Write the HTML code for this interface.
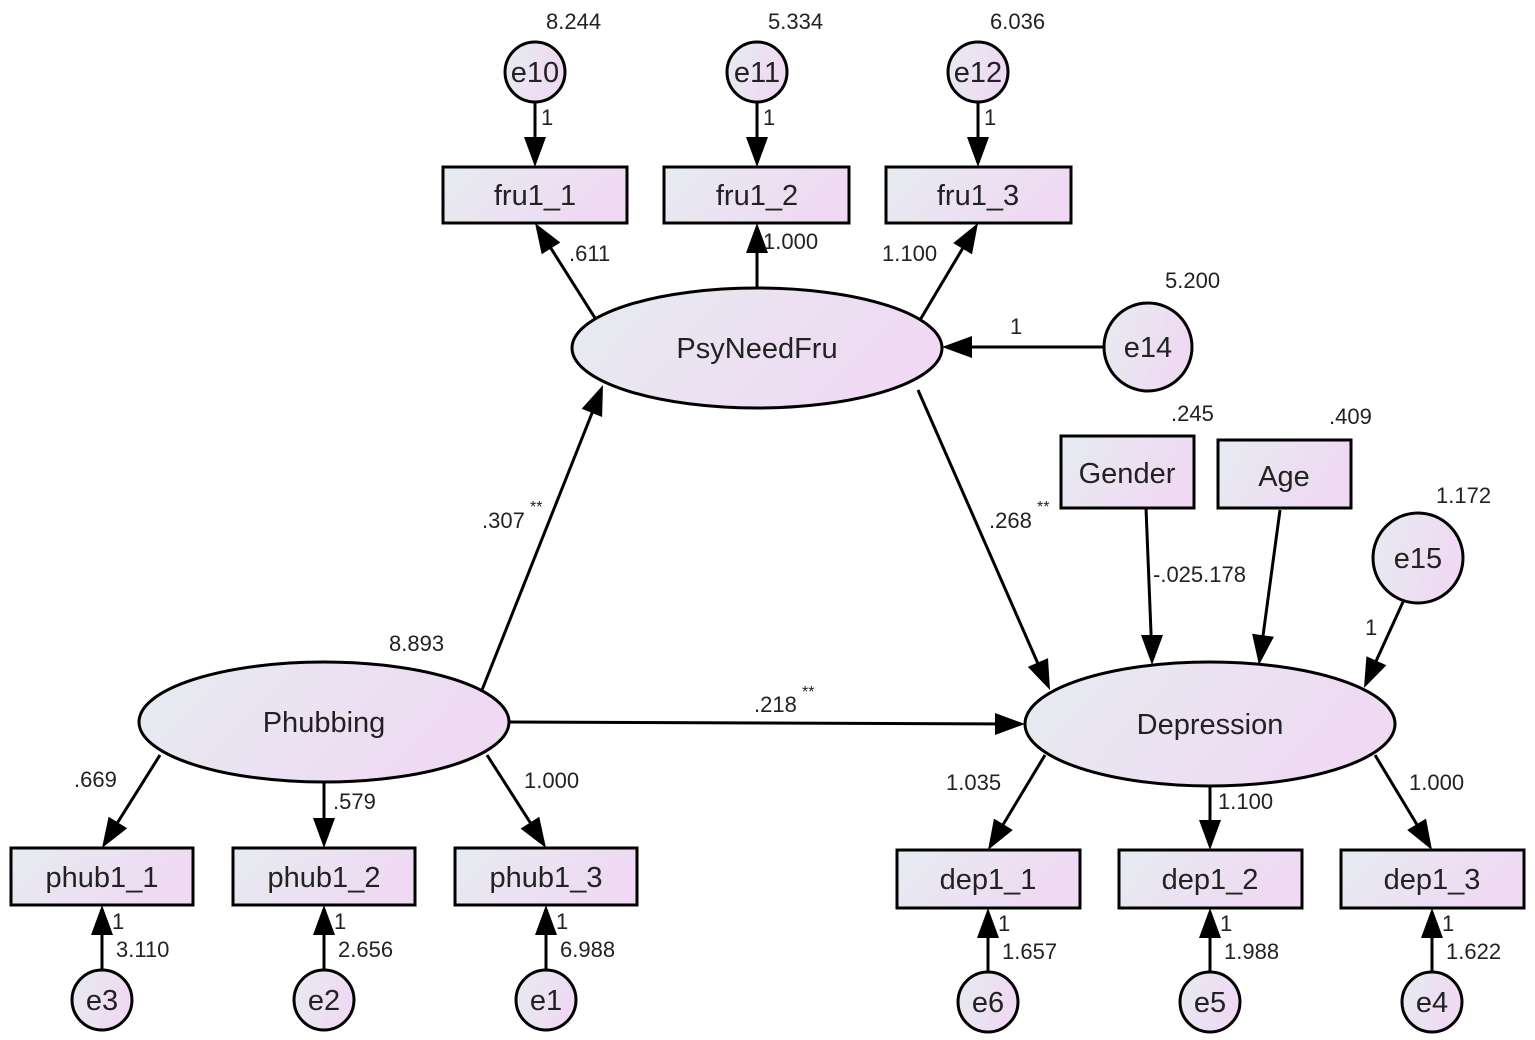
<!DOCTYPE html>
<html><head><meta charset="utf-8"><style>
html,body{margin:0;padding:0;background:#fff}
svg{display:block}
text{font-family:"Liberation Sans",sans-serif;fill:#222}
.n{font-size:29px}
.v{font-size:22px}
</style></head><body>
<svg width="1535" height="1040" viewBox="0 0 1535 1040" xmlns="http://www.w3.org/2000/svg">
<defs>
<linearGradient id="g" x1="0" y1="0" x2="1" y2="0.3">
<stop offset="0" stop-color="#e6ecf0"/><stop offset="1" stop-color="#efd9f3"/>
</linearGradient>
</defs>
<g stroke="#000" stroke-width="3" fill="none">
<line x1="535" y1="102" x2="535" y2="160"/>
<line x1="757" y1="102" x2="757" y2="160"/>
<line x1="978" y1="102" x2="978" y2="160"/>
<line x1="595" y1="318" x2="540" y2="231"/>
<line x1="757" y1="288" x2="757" y2="230"/>
<line x1="920" y1="320" x2="973" y2="231"/>
<line x1="1104" y1="347" x2="950" y2="347"/>
<line x1="482" y1="690" x2="600" y2="393"/>
<line x1="918" y1="390" x2="1046" y2="682"/>
<line x1="509" y1="722" x2="1018" y2="724"/>
<line x1="1146" y1="508" x2="1152" y2="658"/>
<line x1="1280" y1="510" x2="1260" y2="658"/>
<line x1="1403" y1="602" x2="1367" y2="681"/>
<line x1="160" y1="755" x2="106" y2="841"/>
<line x1="324" y1="782" x2="324" y2="841"/>
<line x1="487" y1="755" x2="542" y2="841"/>
<line x1="1045" y1="755" x2="992" y2="843"/>
<line x1="1210" y1="786" x2="1210" y2="843"/>
<line x1="1375" y1="755" x2="1428" y2="843"/>
<line x1="102" y1="970" x2="102" y2="912"/>
<line x1="324" y1="970" x2="324" y2="912"/>
<line x1="546" y1="970" x2="546" y2="912"/>
<line x1="988" y1="972" x2="988" y2="915"/>
<line x1="1210" y1="972" x2="1210" y2="915"/>
<line x1="1432" y1="972" x2="1432" y2="915"/>
</g>
<g fill="#000">
<polygon points="535,167 524,137 546,137"/>
<polygon points="757,167 746,137 768,137"/>
<polygon points="978,167 967,137 989,137"/>
<polygon points="535,223 560.3,242.5 541.7,254.3"/>
<polygon points="757,223 746,253 768,253"/>
<polygon points="978,223 972,254.3 953.2,243.1"/>
<polygon points="942,347 972,336 972,358"/>
<polygon points="603,385 602.1,417 581.7,408.8"/>
<polygon points="1050,690 1027.8,666.9 1048,658.1"/>
<polygon points="1025,724 995,713 995,735"/>
<polygon points="1152,665 1141,635 1163,635"/>
<polygon points="1259,665 1252.1,633.8 1273.9,636.8"/>
<polygon points="1364,688 1366.4,656.2 1386.4,665.2"/>
<polygon points="102,848 108.6,816.7 127.2,828.3"/>
<polygon points="324,848 313,818 335,818"/>
<polygon points="546,848 520.6,828.6 539.2,816.8"/>
<polygon points="988,850 994,818.6 1012.8,830"/>
<polygon points="1210,850 1199,820 1221,820"/>
<polygon points="1432,850 1407.2,830 1426,818.6"/>
<polygon points="102,905 91,935 113,935"/>
<polygon points="324,905 313,935 335,935"/>
<polygon points="546,905 535,935 557,935"/>
<polygon points="988,908 977,938 999,938"/>
<polygon points="1210,908 1199,938 1221,938"/>
<polygon points="1432,908 1421,938 1443,938"/>
</g>
<g stroke="#000" stroke-width="3" fill="url(#g)">
<rect x="443" y="167" width="184" height="56"/>
<rect x="664" y="167" width="185" height="56"/>
<rect x="886" y="167" width="185" height="56"/>
<rect x="1061" y="436" width="133" height="72"/>
<rect x="1218" y="440" width="133" height="68"/>
<rect x="11" y="848" width="182" height="57"/>
<rect x="233" y="848" width="182" height="57"/>
<rect x="455" y="848" width="182" height="57"/>
<rect x="897" y="850" width="183" height="58"/>
<rect x="1119" y="850" width="183" height="58"/>
<rect x="1341" y="850" width="183" height="58"/>
<ellipse cx="757" cy="348" rx="185" ry="60"/>
<ellipse cx="324" cy="722" rx="185" ry="60"/>
<ellipse cx="1210" cy="724" rx="185" ry="62"/>
<circle cx="535" cy="72" r="30"/><circle cx="757" cy="72" r="30"/><circle cx="978" cy="72" r="30"/>
<circle cx="1148" cy="347" r="44"/><circle cx="1418" cy="558" r="45"/>
<circle cx="102" cy="1000" r="30"/><circle cx="324" cy="1000" r="30"/><circle cx="546" cy="1000" r="30"/>
<circle cx="988" cy="1002" r="30"/><circle cx="1210" cy="1002" r="30"/><circle cx="1432" cy="1002" r="30"/>
</g>
<g class="n" text-anchor="middle">
<text x="535" y="205">fru1_1</text><text x="757" y="205">fru1_2</text><text x="978" y="205">fru1_3</text>
<text x="1127" y="483">Gender</text><text x="1284" y="486">Age</text>
<text x="102" y="887">phub1_1</text><text x="324" y="887">phub1_2</text><text x="546" y="887">phub1_3</text>
<text x="988" y="889">dep1_1</text><text x="1210" y="889">dep1_2</text><text x="1432" y="889">dep1_3</text>
<text x="757" y="358">PsyNeedFru</text><text x="324" y="732">Phubbing</text><text x="1210" y="734">Depression</text>
<text x="535" y="82">e10</text><text x="757" y="82">e11</text><text x="978" y="82">e12</text>
<text x="1148" y="357">e14</text><text x="1418" y="568">e15</text>
<text x="102" y="1010">e3</text><text x="324" y="1010">e2</text><text x="546" y="1010">e1</text>
<text x="988" y="1012">e6</text><text x="1210" y="1012">e5</text><text x="1432" y="1012">e4</text>
</g>
<g class="v">
<text x="546" y="29">8.244</text><text x="768" y="29">5.334</text><text x="990" y="29">6.036</text>
<text x="541" y="125">1</text><text x="763" y="125">1</text><text x="984" y="125">1</text>
<text x="569" y="261">.611</text><text x="763" y="249">1.000</text><text x="882" y="261">1.100</text>
<text x="1165" y="288">5.200</text><text x="1010" y="334">1</text>
<text x="1171" y="421">.245</text><text x="1329" y="424">.409</text><text x="1436" y="503">1.172</text>
<text x="482" y="528">.307</text><text x="530" y="512" font-size="16">**</text>
<text x="989" y="528">.268</text><text x="1037" y="512" font-size="16">**</text>
<text x="1153" y="582">-.025.178</text><text x="1365" y="635">1</text>
<text x="389" y="651">8.893</text>
<text x="754" y="712">.218</text><text x="802" y="697" font-size="16">**</text>
<text x="74" y="787">.669</text><text x="333" y="809">.579</text><text x="524" y="788">1.000</text>
<text x="946" y="790">1.035</text><text x="1218" y="809">1.100</text><text x="1409" y="790">1.000</text>
<text x="112" y="929">1</text><text x="116" y="957">3.110</text>
<text x="334" y="929">1</text><text x="338" y="957">2.656</text>
<text x="556" y="929">1</text><text x="560" y="957">6.988</text>
<text x="998" y="931">1</text><text x="1002" y="959">1.657</text>
<text x="1220" y="931">1</text><text x="1224" y="959">1.988</text>
<text x="1442" y="931">1</text><text x="1446" y="959">1.622</text>
</g>
</svg>
</body></html>
